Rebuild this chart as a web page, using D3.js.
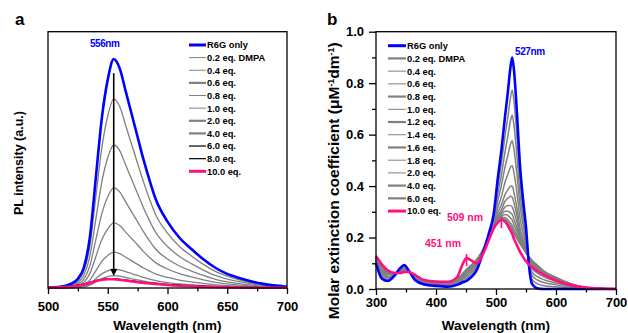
<!DOCTYPE html>
<html><head><meta charset="utf-8">
<script src="https://cdn.jsdelivr.net/npm/d3@7"></script>
<style>
body{margin:0;background:#fff}
svg{display:block}
text{font-family:"Liberation Sans",Arial,sans-serif;fill:#000}
</style>
</head><body><svg id="c" width="628" height="333"></svg>
<script>
// ---------- Panel a : PL spectra ----------
const plWavelength = [500,510,515,520,525,530,535,540,545,550,555,560,565,570,575,580,585,590,600,610,620,630,640,650,660,680,700];
const plR6G  = [0.003,0.005,0.009,0.018,0.036,0.080,0.196,0.429,0.661,0.813,0.893,0.857,0.768,0.679,0.589,0.500,0.420,0.348,0.259,0.196,0.152,0.112,0.079,0.055,0.039,0.016,0.005];
const plEq02 = [0.002,0.004,0.007,0.015,0.029,0.066,0.162,0.354,0.545,0.671,0.737,0.708,0.634,0.560,0.486,0.413,0.346,0.287,0.214,0.162,0.125,0.092,0.065,0.046,0.032,0.013,0.004];
const plEq04 = [0.002,0.003,0.006,0.011,0.022,0.050,0.123,0.268,0.413,0.508,0.558,0.536,0.480,0.424,0.368,0.312,0.262,0.218,0.162,0.123,0.095,0.070,0.049,0.035,0.025,0.010,0.003];
const plEq06 = [0.001,0.002,0.004,0.008,0.016,0.035,0.086,0.188,0.289,0.356,0.391,0.375,0.336,0.297,0.258,0.219,0.184,0.152,0.113,0.086,0.066,0.049,0.034,0.024,0.017,0.007,0.002];
const plEq08 = [0.001,0.002,0.003,0.005,0.010,0.023,0.056,0.122,0.188,0.231,0.254,0.244,0.218,0.193,0.168,0.142,0.119,0.099,0.074,0.056,0.043,0.032,0.022,0.016,0.011,0.005,0.002];
const plEq10 = [0.000,0.001,0.001,0.003,0.006,0.013,0.031,0.067,0.104,0.127,0.140,0.134,0.120,0.106,0.092,0.078,0.066,0.055,0.041,0.031,0.024,0.018,0.012,0.009,0.006,0.003,0.001];
const plEq20 = [0.000,0.000,0.001,0.001,0.003,0.007,0.016,0.036,0.055,0.067,0.074,0.071,0.064,0.056,0.049,0.041,0.035,0.029,0.021,0.016,0.013,0.009,0.007,0.005,0.003,0.001,0.000];
const plEq40 = [0.000,0.000,0.000,0.001,0.002,0.004,0.011,0.023,0.036,0.044,0.048,0.046,0.041,0.036,0.032,0.027,0.023,0.019,0.014,0.011,0.008,0.006,0.004,0.003,0.002,0.001,0.000];
const plEq60 = [0.003,0.004,0.005,0.008,0.011,0.016,0.022,0.029,0.034,0.036,0.036,0.034,0.031,0.028,0.025,0.022,0.020,0.018,0.014,0.011,0.009,0.007,0.005,0.004,0.003,0.002,0.001];
const plEq80 = [0.003,0.004,0.005,0.007,0.010,0.015,0.021,0.028,0.033,0.035,0.035,0.033,0.030,0.027,0.024,0.021,0.019,0.017,0.013,0.010,0.008,0.006,0.004,0.003,0.002,0.001,0.001];
const plEq100= [0.002,0.003,0.004,0.006,0.009,0.014,0.020,0.027,0.032,0.034,0.034,0.032,0.029,0.026,0.023,0.020,0.018,0.016,0.012,0.009,0.007,0.005,0.004,0.003,0.002,0.001,0.001];
const plLabels = ["R6G only","0.2 eq. DMPA","0.4 eq.","0.6 eq.","0.8 eq.","1.0 eq.","2.0 eq.","4.0 eq.","6.0 eq.","8.0 eq.","10.0 eq."];
const plXTicks = [500,550,600,650,700];
const plXMinor = [525,575,625,675];
const plPeakLabel = "556nm";
const plPeakWl = 555;
const plArrow = [0.838, 0.047];

// ---------- Panel b : absorption spectra ----------
const abWavelength = [300,310,320,330,340,347,355,365,380,400,420,435,445,451,458,468,478,488,496,503,509,515,520,524,527,530,535,540,545,550,555,560,570,580,600,625,650,700];
const abR6G  = [0.100,0.040,0.031,0.050,0.080,0.093,0.070,0.035,0.018,0.012,0.009,0.016,0.026,0.032,0.044,0.074,0.140,0.215,0.290,0.430,0.540,0.670,0.770,0.860,0.900,0.850,0.680,0.480,0.350,0.240,0.090,0.020,0.002,0,0,0,0,0];
const abEq02 = [0.104,0.049,0.037,0.052,0.077,0.089,0.070,0.038,0.021,0.015,0.012,0.020,0.032,0.040,0.053,0.082,0.142,0.212,0.281,0.398,0.489,0.594,0.672,0.742,0.773,0.729,0.588,0.422,0.314,0.221,0.097,0.037,0.019,0.013,0.009,0.004,0.001,0];
const abEq04 = [0.107,0.056,0.043,0.054,0.075,0.085,0.069,0.040,0.023,0.017,0.014,0.023,0.038,0.048,0.061,0.089,0.144,0.210,0.272,0.369,0.443,0.533,0.598,0.653,0.675,0.635,0.515,0.370,0.281,0.204,0.103,0.053,0.034,0.025,0.016,0.007,0.002,0];
const abEq06 = [0.110,0.063,0.048,0.055,0.072,0.082,0.069,0.043,0.025,0.019,0.017,0.026,0.043,0.054,0.068,0.095,0.145,0.207,0.265,0.343,0.402,0.474,0.521,0.562,0.576,0.542,0.444,0.325,0.252,0.189,0.108,0.067,0.047,0.036,0.023,0.010,0.003,0];
const abEq08 = [0.113,0.070,0.054,0.057,0.070,0.079,0.069,0.045,0.027,0.021,0.019,0.029,0.049,0.061,0.075,0.102,0.147,0.205,0.257,0.316,0.359,0.415,0.447,0.473,0.479,0.450,0.372,0.276,0.221,0.173,0.113,0.082,0.061,0.047,0.030,0.013,0.004,0];
const abEq10 = [0.116,0.076,0.058,0.058,0.068,0.076,0.068,0.047,0.029,0.022,0.021,0.031,0.053,0.066,0.080,0.106,0.148,0.203,0.251,0.296,0.327,0.367,0.386,0.399,0.400,0.374,0.314,0.239,0.198,0.161,0.118,0.093,0.072,0.055,0.036,0.016,0.005,0];
const abEq12 = [0.117,0.079,0.060,0.059,0.067,0.075,0.068,0.048,0.030,0.023,0.022,0.032,0.055,0.069,0.084,0.109,0.149,0.202,0.247,0.284,0.308,0.341,0.353,0.360,0.357,0.334,0.283,0.218,0.185,0.154,0.120,0.099,0.078,0.060,0.039,0.017,0.005,0];
const abEq14 = [0.118,0.081,0.062,0.059,0.067,0.074,0.068,0.049,0.031,0.024,0.023,0.033,0.057,0.071,0.085,0.111,0.149,0.202,0.245,0.277,0.297,0.319,0.325,0.324,0.319,0.299,0.257,0.206,0.177,0.150,0.122,0.103,0.081,0.063,0.041,0.018,0.005,0];
const abEq16 = [0.119,0.082,0.063,0.059,0.066,0.073,0.068,0.049,0.031,0.024,0.023,0.034,0.058,0.072,0.087,0.112,0.149,0.201,0.243,0.271,0.288,0.302,0.302,0.296,0.290,0.270,0.237,0.195,0.171,0.147,0.123,0.106,0.084,0.065,0.042,0.019,0.006,0];
const abEq18 = [0.119,0.083,0.064,0.060,0.066,0.073,0.068,0.049,0.031,0.024,0.023,0.034,0.059,0.073,0.088,0.113,0.150,0.201,0.242,0.267,0.281,0.290,0.285,0.276,0.268,0.250,0.221,0.187,0.166,0.144,0.124,0.108,0.086,0.067,0.043,0.019,0.006,0];
const abEq20 = [0.120,0.084,0.064,0.060,0.065,0.073,0.068,0.050,0.032,0.025,0.024,0.035,0.059,0.074,0.089,0.114,0.150,0.200,0.241,0.264,0.277,0.278,0.268,0.256,0.247,0.231,0.207,0.183,0.163,0.143,0.124,0.110,0.088,0.068,0.044,0.020,0.006,0];
const abEq40 = [0.120,0.085,0.065,0.060,0.065,0.072,0.068,0.050,0.032,0.025,0.024,0.035,0.060,0.075,0.090,0.115,0.150,0.200,0.240,0.262,0.273,0.272,0.260,0.246,0.237,0.221,0.200,0.178,0.160,0.141,0.125,0.111,0.089,0.069,0.045,0.020,0.006,0];
const abEq60 = [0.121,0.087,0.066,0.061,0.065,0.071,0.067,0.050,0.033,0.026,0.025,0.037,0.062,0.077,0.092,0.116,0.150,0.199,0.239,0.260,0.270,0.268,0.255,0.240,0.230,0.215,0.195,0.175,0.158,0.140,0.125,0.112,0.090,0.070,0.045,0.020,0.006,0];
const abEq100= [0.128,0.095,0.072,0.063,0.062,0.066,0.066,0.055,0.035,0.029,0.028,0.045,0.100,0.120,0.112,0.100,0.135,0.190,0.235,0.258,0.268,0.262,0.245,0.228,0.215,0.195,0.170,0.145,0.125,0.108,0.095,0.085,0.068,0.055,0.033,0.015,0.006,0];
const abLabels = ["R6G only","0.2 eq. DMPA","0.4 eq.","0.6 eq.","0.8 eq.","1.0 eq.","1.2 eq.","1.4 eq.","1.6 eq.","1.8 eq.","2.0 eq.","4.0 eq.","6.0 eq.","10.0 eq."];
const abXTicks = [300,400,500,600,700];
const abXMinor = [350,450,550,650];
const abYTicks = [0,0.2,0.4,0.6,0.8,1.0];
const abYMinor = [0.1,0.3,0.5,0.7,0.9];
const abPeaks = [ {wl:527, text:"527nm"}, {wl:509, lo:0.237, hi:0.280, text:"509 nm"}, {wl:451, lo:0.089, hi:0.136, text:"451 nm"} ];

// ---------- styles ----------
const BLUE = "#0000ff", PINK = "#ff0f7f", GRAY = "#808080";
const FONT = '"Liberation Sans", Arial, sans-serif';

const svg = d3.select("#c");

function drawAxesBox(g, x, y) {
  const [x0,x1] = x.range(), [y0,y1] = y.range();
  g.append("rect").attr("x",x0).attr("y",y1).attr("width",x1-x0).attr("height",y0-y1)
    .attr("fill","none").attr("stroke","#000").attr("stroke-width",1.3);
}
function styleAxis(sel, size) {
  sel.select(".domain").remove();
  sel.selectAll(".tick line").attr("stroke","#000").attr("stroke-width",1.3);
  sel.selectAll(".tick text").attr("font-family",FONT).attr("font-size",size).attr("font-weight","bold").attr("fill","#000");
}

// ================= Panel a =================
{
  const x = d3.scaleLinear().domain([500,700]).range([48,287]);
  const y = d3.scaleLinear().domain([0,1]).range([288,31.7]);
  const g = svg.append("g");
  const series = [plR6G,plEq02,plEq04,plEq06,plEq08,plEq10,plEq20,plEq40,plEq60,plEq80,plEq100];
  const colors = [BLUE,GRAY,GRAY,GRAY,GRAY,GRAY,GRAY,GRAY,"#000","#000",PINK];
  const widths = [2.6,1.3,1.3,1.3,1.3,1.3,1.3,1.3,1.2,1.2,2.6];
  const legendW = [3,1,1,2.2,1,1,2.2,2.2,1.2,1.2,3];
  const line = d3.line().x((d,i)=>x(plWavelength[i])).y(d=>y(d)).curve(d3.curveMonotoneX);
  const order = [1,2,3,4,5,6,7,8,9,0,10];
  order.forEach(k=>{
    g.append("path").datum(series[k]).attr("d",line).attr("fill","none")
      .attr("stroke",colors[k]).attr("stroke-width",widths[k]).attr("stroke-linejoin","round");
  });
  drawAxesBox(g,x,y);
  const xa = g.append("g").attr("transform","translate(0,288)")
    .call(d3.axisBottom(x).tickValues(plXTicks).tickSize(6).tickPadding(7.5).tickFormat(d3.format("d")));
  styleAxis(xa,13);
  const xm = g.append("g").attr("transform","translate(0,288)")
    .call(d3.axisBottom(x).tickValues(plXMinor).tickSize(3.5).tickFormat(""));
  styleAxis(xm,13);
  // arrow
  const ax = x(plPeakWl);
  g.append("line").attr("x1",ax).attr("x2",ax).attr("y1",y(plArrow[0])).attr("y2",y(plArrow[1])-5)
    .attr("stroke","#000").attr("stroke-width",1.6);
  g.append("path").attr("d",`M${ax-3.5},${y(plArrow[1])-7}L${ax+3.5},${y(plArrow[1])-7}L${ax},${y(plArrow[1])}Z`).attr("fill","#000");
  g.append("text").attr("x",ax-9).attr("y",47).attr("text-anchor","middle").attr("font-size",10).attr("font-weight","bold")
    .style("fill",BLUE).attr("letter-spacing",-0.4).text(plPeakLabel);
  // legend
  plLabels.forEach((t,i)=>{
    const yy = 45 + 12.63*i;
    g.append("line").attr("x1",189).attr("x2",206).attr("y1",yy).attr("y2",yy)
      .attr("stroke",colors[i]).attr("stroke-width",legendW[i]);
    g.append("text").attr("x",207).attr("y",yy+3.4).attr("font-size",9.3).attr("font-weight","bold").text(t);
  });
  // labels
  g.append("text").attr("x",167.5).attr("y",330).attr("text-anchor","middle").attr("font-size",13.5).attr("font-weight","bold").text("Wavelength (nm)");
  g.append("text").attr("transform","translate(23,163) rotate(-90)").attr("text-anchor","middle").attr("font-size",12.5).attr("font-weight","bold").text("PL intensity (a.u.)");
  g.append("text").attr("x",15).attr("y",25).attr("font-size",17).attr("font-weight","bold").text("a");
}

// ================= Panel b =================
{
  const x = d3.scaleLinear().domain([300,700]).range([376,616]);
  const y = d3.scaleLinear().domain([0,1]).range([289,31.7]);
  const g = svg.append("g");
  const series = [abR6G,abEq02,abEq04,abEq06,abEq08,abEq10,abEq12,abEq14,abEq16,abEq18,abEq20,abEq40,abEq60,abEq100];
  const colors = series.map((s,i)=> i===0?BLUE:(i===series.length-1?PINK:GRAY));
  const widths = series.map((s,i)=> (i===0||i===series.length-1)?2.6:1.5);
  const legendW = [3,2.2,1,1,2.2,1,2.2,1,2.2,1,1,2.2,2.2,3];
  const line = d3.line().x((d,i)=>x(abWavelength[i])).y(d=>y(d)).curve(d3.curveMonotoneX);
  const order = [1,2,3,4,5,6,7,8,9,10,11,12,0,13];
  order.forEach(k=>{
    g.append("path").datum(series[k]).attr("d",line).attr("fill","none")
      .attr("stroke",colors[k]).attr("stroke-width",widths[k]).attr("stroke-linejoin","round");
  });
  drawAxesBox(g,x,y);
  const xa = g.append("g").attr("transform","translate(0,289)")
    .call(d3.axisBottom(x).tickValues(abXTicks).tickSize(6).tickPadding(2.5).tickFormat(d3.format("d")));
  styleAxis(xa,13);
  const xm = g.append("g").attr("transform","translate(0,289)")
    .call(d3.axisBottom(x).tickValues(abXMinor).tickSize(3.5).tickFormat(""));
  styleAxis(xm,13);
  const ya = g.append("g").attr("transform","translate(376,0)")
    .call(d3.axisLeft(y).tickValues(abYTicks).tickSize(7).tickPadding(5).tickFormat(d3.format(".1f")));
  styleAxis(ya,13);
  const ym = g.append("g").attr("transform","translate(376,0)")
    .call(d3.axisLeft(y).tickValues(abYMinor).tickSize(4).tickFormat(""));
  styleAxis(ym,13);
  // peak annotations
  g.append("text").attr("x",515).attr("y",55).attr("font-size",10).attr("font-weight","bold").attr("letter-spacing",-0.4)
    .style("fill",BLUE).text(abPeaks[0].text);
  abPeaks.slice(1).forEach(p=>{
    g.append("line").attr("x1",x(p.wl)).attr("x2",x(p.wl)).attr("y1",y(p.lo)).attr("y2",y(p.hi))
      .attr("stroke",PINK).attr("stroke-width",1.6);
  });
  g.append("text").attr("x",465).attr("y",221).attr("text-anchor","middle").attr("font-size",10.5).attr("font-weight","bold")
    .style("fill",PINK).text(abPeaks[1].text);
  g.append("text").attr("x",443).attr("y",247).attr("text-anchor","middle").attr("font-size",10.5).attr("font-weight","bold")
    .style("fill",PINK).text(abPeaks[2].text);
  // legend
  abLabels.forEach((t,i)=>{
    const yy = 45.7 + 12.72*i;
    g.append("line").attr("x1",388).attr("x2",406).attr("y1",yy).attr("y2",yy)
      .attr("stroke",colors[i]).attr("stroke-width",legendW[i]);
    g.append("text").attr("x",407).attr("y",yy+3.4).attr("font-size",9.3).attr("font-weight","bold").text(t);
  });
  g.append("text").attr("x",496).attr("y",330).attr("text-anchor","middle").attr("font-size",13.5).attr("font-weight","bold").text("Wavelength (nm)");
  const yt = g.append("text").attr("transform","translate(339,180.7) rotate(-90)").attr("text-anchor","middle")
    .attr("font-size",15.5).attr("font-weight","bold");
  yt.append("tspan").text("Molar extinction coefficient (μM");
  yt.append("tspan").attr("baseline-shift","super").attr("font-size",9).text("-1");
  yt.append("tspan").text("dm");
  yt.append("tspan").attr("baseline-shift","super").attr("font-size",9).text("-1");
  yt.append("tspan").text(")");
  g.append("text").attr("x",327).attr("y",25).attr("font-size",17).attr("font-weight","bold").text("b");
}
</script></body></html>
